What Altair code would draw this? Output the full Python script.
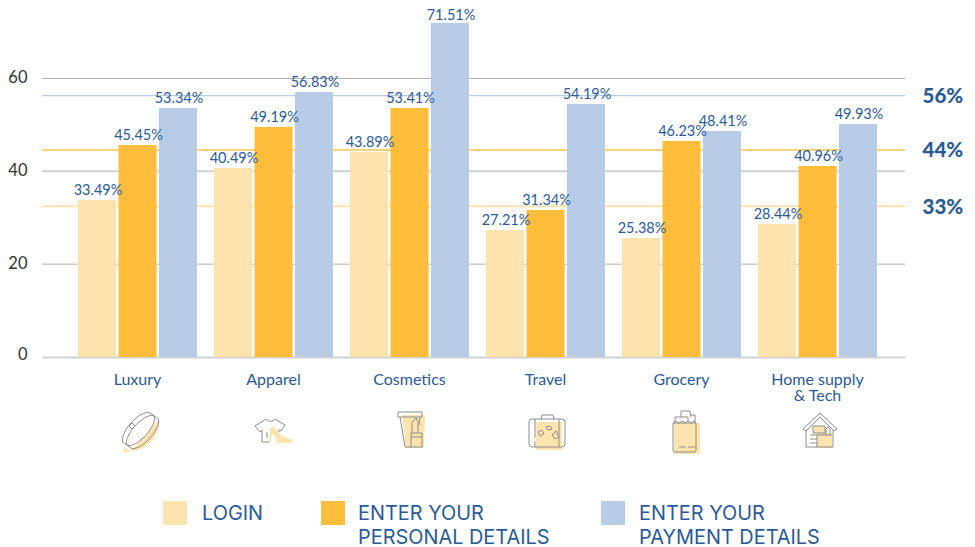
import altair as alt
import pandas as pd

categories = ["Luxury", "Apparel", "Cosmetics", "Travel", "Grocery", "Home supply & Tech"]
series = ["LOGIN", "ENTER YOUR\nPERSONAL DETAILS", "ENTER YOUR\nPAYMENT DETAILS"]
login_labels = ["33.49%", "40.49%", "43.89%", "27.21%", "25.38%", "28.44%"]
personal_labels = ["45.45%", "49.19%", "53.41%", "31.34%", "46.23%", "40.96%"]
payment_labels = ["53.34%", "56.83%", "71.51%", "54.19%", "48.41%", "49.93%"]
# bar heights as they read against the y axis
login_bars = [33.82, 40.72, 44.16, 27.36, 25.64, 28.65]
personal_bars = [45.67, 49.55, 53.64, 31.67, 46.53, 41.15]
payment_bars = [53.64, 57.09, 71.95, 54.50, 48.69, 50.19]
avg_values = [56.3, 44.6, 32.5]
avg_labels = ["56%", "44%", "33%"]
grid_values = [20, 40, 60]

CREAM, ORANGE, BLUE = "#fde3ad", "#febd3b", "#b8cce8"
INK = "#2c5a97"
FONT = "Lato"
GREY = "#8c8c8c"

rows = []
for s, bars, labels in zip(series, [login_bars, personal_bars, payment_bars],
                           [login_labels, personal_labels, payment_labels]):
    for c, b, l in zip(categories, bars, labels):
        rows.append({"category": c, "series": s, "bar": b, "label": l})
df = pd.DataFrame(rows)

PW, PH = 863, 349
x_scale = alt.Scale(domain=categories, paddingInner=0, paddingOuter=0.1728, align=0.585)
y_scale = alt.Scale(domain=[0, 75.18], nice=False, zero=True)
off_scale = alt.Scale(domain=series, paddingInner=0.062, paddingOuter=0.21)
color_scale = alt.Scale(domain=series, range=[CREAM, ORANGE, BLUE])

x_enc = alt.X("category:N", scale=x_scale, title=None, sort=categories,
              axis=alt.Axis(labelAngle=0, ticks=False, domainColor="#d2d2d2", domainWidth=2,
                            labelColor=INK, labelFont=FONT, labelFontSize=16, labelPadding=14,
                            labelLimit=200, labelLineHeight=16,
                            labelExpr="datum.label == 'Home supply & Tech' ? ['Home supply', '& Tech'] : datum.label"))
y_enc = alt.Y("bar:Q", scale=y_scale, title=None,
              axis=alt.Axis(values=[0, 20, 40, 60], domain=False, ticks=False, labelPadding=15,
                            labelColor="#333333", labelFont=FONT, labelFontSize=16.5, grid=False,
                            labelOffset={"condition": {"test": "datum.value == 0", "value": -3}, "value": -1}))

layers = []
for v, col, w in zip(grid_values, ["#b0b0b0", "#d0d0d0", "#b0b0b0"], [1, 2, 1]):
    layers.append(alt.Chart(pd.DataFrame({"v": [v]})).mark_rule(color=col, strokeWidth=w).encode(
        y=alt.Y("v:Q", scale=y_scale, title=None)))
for v, col, w in zip(avg_values, [BLUE, "#fdd27c", CREAM], [1.1, 2, 2]):
    layers.append(alt.Chart(pd.DataFrame({"v": [v]})).mark_rule(color=col, strokeWidth=w).encode(
        y=alt.Y("v:Q", scale=y_scale, title=None)))

refs_df = pd.DataFrame({"v": avg_values, "t": avg_labels})
layers.append(alt.Chart(refs_df).mark_text(align="left", baseline="middle", dy=1.5, font=FONT, fontSize=20.5,
                                           fontWeight=900, color=INK).encode(
    x=alt.value(880.5), y=alt.Y("v:Q", scale=y_scale, title=None), text="t:N"))

layers.append(alt.Chart(df).mark_bar().encode(
    x=x_enc, xOffset=alt.XOffset("series:N", scale=off_scale, sort=series), y=y_enc,
    color=alt.Color("series:N", scale=color_scale, legend=None),
))
base_lab = alt.Chart(df).encode(
    x=x_enc, xOffset=alt.XOffset("series:N", scale=off_scale, sort=series),
    y=alt.Y("bar:Q", scale=y_scale, title=None), text="label:N",
)
layers.append(base_lab.transform_filter("datum.bar <= 70").mark_text(
    baseline="middle", dy=-9, dx=1, font=FONT, fontSize=14.5, color=INK))
layers.append(base_lab.transform_filter("datum.bar > 70").mark_text(
    baseline="middle", dy=-7, dx=1, font=FONT, fontSize=14.5, color=INK))

# icons: (centre x, centre y on page, cream fill path, grey outline path)
icons = [
    (140, 430,
     "M-15 16A20 12 -48 0 0 18-11A20 4 -48 0 1-15 16Z",
     "M-14 14A20 8 -48 1 1 11-16A20 8 -48 1 1-14 14Z"
     "M-10 17A20 8 -48 1 1 15-13A20 8 -48 1 1-10 17Z"
     "M-11-4L-8-7L-5-4L-8-1Z"),
    (273, 430,
     "M-3-2C0-4 3-2 5 2C8 6 14 8 19 10V13H3C4 8 1 5-1 4L-2 12H-4Z",
     "M-7-11C-5-8 0-8 2-11L12-5L8 1L6 0V2M-7-11L-18-4L-13 2L-11 0V12H-4M-6 2V8"),
    (410, 430,
     "M-8-15H15L14 18H-4Z",
     "M-12-18H12V-13H-12ZM-10-13L-5 17H1M10-13L9-5M1 3H12V17H1ZM1 7H12M2 3V-8L6-12L8-8V3"),
    (547, 430,
     "M-11-8H15V20H-11Z",
     "M-15-11H15Q18-11 18-8V14Q18 17 15 17H-15Q-18 17-18 14V-8Q-18-11-15-11ZM-6-11L-5-15H6L7-11M-12-11V8M-12 11V17"
     "M12-11V17M-9 2L-5 0L-3 4L-7 6ZM-1-3L3-4L5-1L1 0ZM5 5L9 1L12 7L8 9Z"),
    (685, 430,
     "M-11-7H15V24H-11Z",
     "M-12-7V20Q-12 22-10 22H9Q11 22 11 20V-7ZM-12-7L-9-9L-6-7L-3-9L0-7L3-9L6-7L9-9L11-7"
     "M-10-8V-13H3V-8M-4-13V-19H5L6-13M5-15H10V-8M-6 17H1M3 17H10"),
    (820, 430,
     "M-7-4H5V3H12V18H-3V3H-7Z",
     "M-17-1L0-17L17-1L14 1L0-13L-14 1ZM-14 1V17H13V1M-7-4H5V3H-7ZM-10 5H-3V17M-10 9H-3M-10 13H-3"
     "M6 5V-1L8-3L10-1V5M-3 5H12"),
]

for cx, cy, fill_path, line_path in icons:
    pos = dict(x=alt.value(cx - 42), y=alt.value(cy - 8))
    layers.append(alt.Chart(pd.DataFrame({"k": [0]})).mark_point(
        shape=fill_path, size=4, filled=True, color=CREAM, opacity=1).encode(**pos))
    layers.append(alt.Chart(pd.DataFrame({"k": [0]})).mark_point(
        shape=line_path, size=4, filled=False, color=GREY, strokeWidth=1, opacity=1).encode(**pos))

swatch_x = [175, 333, 613]
text_x = [202, 358, 639]
for name, col, sx, tx in zip(series, [CREAM, ORANGE, BLUE], swatch_x, text_x):
    one = pd.DataFrame({"name": [name]})
    layers.append(alt.Chart(one).mark_square(size=576, color=col, opacity=1).encode(
        x=alt.value(sx - 42), y=alt.value(505)))
    layers.append(alt.Chart(one).mark_text(align="left", baseline="alphabetic", lineBreak="\n", lineHeight=24,
                                           font="Inter", fontSize=19.9, color=INK).encode(
        x=alt.value(tx - 42), y=alt.value(511.5), text="name:N"))

chart = alt.layer(*layers).properties(
    width=PW, height=PH,
    autosize=alt.AutoSizeParams(type="none", contains="content"),
    padding={"left": 34, "top": 0, "right": 62, "bottom": 190},
    background="white",
).configure_view(stroke=None)

chart.save("out.html", embed_options={"renderer": "svg", "actions": False})
